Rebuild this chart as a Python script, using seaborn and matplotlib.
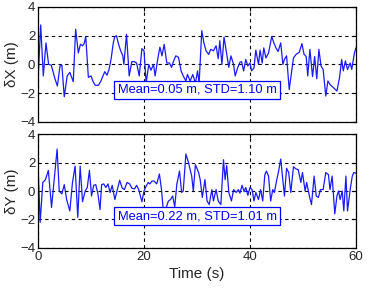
import numpy as np
import pandas as pd
import matplotlib
matplotlib.use("Agg")
import matplotlib.pyplot as plt
import seaborn as sns

# time (s) and error (m)
t_x = [0.0, 0.5, 1.0, 1.5, 2.0, 2.5, 3.2, 3.65, 4.15, 4.5, 4.95, 5.5, 6.0, 6.65, 7.1,
       7.6, 8.0, 8.4, 8.7, 9.0, 9.5, 10.0, 10.4, 10.8, 11.4, 11.8, 12.2, 12.6, 13.0,
       13.4, 13.8, 14.2, 14.5, 14.8, 15.2, 15.6, 16.0, 16.2, 16.7, 17.2, 17.7, 18.1,
       18.6, 19.1, 19.6, 20.0, 20.4, 20.9, 21.3, 21.8, 22.1, 22.6, 23.0, 23.4, 23.8,
       24.3, 24.8, 25.2, 25.6, 26.0, 26.5, 27.0, 27.4, 27.9, 28.2, 28.7, 29.2, 29.7,
       30.1, 30.4, 30.9, 31.3, 31.7, 32.2, 32.6, 33.1, 33.6, 34.0, 34.3, 34.7, 35.1,
       35.5, 36.0, 36.4, 36.9, 37.2, 37.7, 38.1, 38.4, 38.8, 39.2, 39.6, 40.0, 40.3,
       40.75, 41.1, 41.6, 41.9, 42.3, 42.6, 43.0, 43.5, 44.1, 44.5, 44.9, 45.3, 45.8,
       46.2, 46.5, 46.9, 47.4, 47.9, 48.2, 48.7, 49.3, 49.8, 50.2, 50.6, 50.9, 51.3,
       51.8, 52.2, 52.6, 53.0, 53.4, 53.8, 54.3, 54.7, 55.1, 55.7, 56.4, 56.9, 57.3,
       57.6, 58.0, 58.4, 58.9, 59.2, 59.7, 60.0]
dx = [-1.15, 2.75, -0.8, 1.5, 0.0, -0.05, -1.0, -1.5, -0.1, -0.05, -2.25, -0.8, -0.55,
      -1.2, 2.45, 0.8, 1.4, 1.3, 1.45, 1.95, -0.9, -0.8, -1.2, -1.45, -1.45, -1.2,
      -0.85, -0.5, -0.75, -0.35, 0.4, 1.5, 1.95, 2.0, 1.4, 0.95, 0.6, 0.0, 2.1, -0.8,
      0.2, 0.2, 0.1, -0.8, 1.1, 0.95, -1.3, 0.0, -0.4, 0.0, -0.8, 0.4, 1.2, 0.6, 1.4,
      0.1, 0.1, -0.2, 0.25, 0.6, 0.5, -0.45, -0.8, -1.15, -0.7, -1.15, -0.7, -1.3,
      -0.45, -1.3, 2.35, 1.5, 0.95, 0.7, 1.05, 0.95, 1.3, 0.4, 1.65, 0.0, 1.9, 0.95,
      -0.2, 0.6, 0.0, -0.8, -0.2, 0.15, 0.2, -0.45, 0.35, -0.1, 0.1, -0.45, -0.25,
      1.0, 0.0, 1.0, 0.1, 1.15, 0.45, 0.8, 1.95, 1.5, 1.15, 0.9, 1.5, 0.0, 0.35, 0.6,
      -1.75, -0.35, 0.45, 0.7, 0.85, 1.45, 0.7, 0.55, -0.8, 1.05, -0.85, 0.55, -1.0,
      1.05, -0.1, -0.35, -2.2, -1.15, -1.4, -1.6, -1.85, -0.9, 0.35, -0.45, 0.25,
      -0.35, 0.1, -0.35, 0.8, 1.15]

t_y = [0.0, 0.4, 0.9, 1.4, 1.95, 2.55, 3.0, 3.6, 4.0, 4.5, 4.95, 5.4, 6.0, 6.5, 7.0,
       7.5, 7.95, 8.4, 8.9, 9.3, 9.7, 10.1, 10.5, 10.9, 11.3, 11.7, 12.0, 12.4, 12.8,
       13.2, 13.6, 14.0, 14.5, 14.9, 15.4, 15.9, 16.3, 16.8, 17.3, 17.7, 18.2, 18.6,
       19.0, 19.6, 20.0, 20.4, 20.8, 21.1, 21.5, 21.9, 22.4, 22.9, 23.3, 23.6, 24.2,
       24.6, 25.0, 25.4, 25.8, 26.2, 26.7, 27.1, 27.4, 27.9, 28.4, 28.7, 29.0, 29.3,
       29.7, 30.3, 30.6, 31.0, 31.5, 31.9, 32.3, 32.8, 33.1, 33.6, 34.0, 34.5, 35.0,
       35.3, 35.6, 36.0, 36.5, 36.9, 37.4, 37.8, 38.1, 38.5, 38.9, 39.2, 39.6, 40.0,
       40.4, 40.75, 41.1, 41.6, 42.0, 42.4, 42.8, 43.1, 43.5, 43.9, 44.3, 44.6, 45.0,
       45.4, 45.8, 46.2, 46.5, 46.9, 47.3, 47.7, 48.2, 48.7, 49.1, 49.6, 49.9, 50.4,
       50.7, 51.2, 51.6, 52.1, 52.5, 52.9, 53.3, 53.8, 54.3, 54.8, 55.1, 55.5, 56.0,
       56.4, 56.7, 57.0, 57.4, 57.7, 58.1, 58.4, 58.9, 59.3, 59.6, 60.0]
dy = [1.8, -2.2, 0.6, 0.8, 1.45, -1.15, 0.6, 2.95, 0.0, -0.2, 0.45, -0.6, -1.4, 0.6,
      1.75, -1.85, 1.75, -0.75, 0.0, 0.25, 1.45, -0.35, 0.4, 0.45, -0.2, -1.3, 0.45,
      0.5, 0.25, 0.5, -0.1, 0.4, -0.6, 0.0, 0.75, 0.2, 0.1, 0.6, 0.5, 0.2, 0.15, 0.4,
      0.1, -0.75, 0.0, 0.35, 0.6, 0.5, 0.7, 0.7, 0.5, 1.2, 0.1, -1.2, -1.15, -0.7,
      -0.6, -0.35, -1.1, 0.5, 1.4, -0.1, 0.0, 2.6, 2.0, 1.5, 1.05, 0.0, 1.85, 1.3,
      0.8, -0.45, 0.8, -0.7, -0.95, 0.1, -0.7, 0.1, -0.7, -0.95, 2.2, 0.8, 1.8, -0.1,
      -0.7, 0.1, -0.1, 0.1, -0.15, 0.4, -0.05, 0.25, -0.3, 0.25, 0.1, -0.7, -0.1,
      -0.6, 0.1, -0.7, 1.15, 1.4, 1.05, -0.7, 0.1, -0.1, 0.7, 1.4, 2.25, 0.8, -0.35,
      1.6, 1.3, -0.1, 1.7, 1.55, 1.5, 0.6, 1.3, 0.0, 0.6, -0.35, -0.95, 1.05, -0.35,
      -0.45, 0.1, 0.1, 1.3, 1.15, 0.1, 1.05, -1.6, -0.35, 0.0, -0.6, 0.0, -1.4, 1.05,
      -1.4, 0.1, 1.05, 1.3, 1.25]

labels = ["\u03b4X (m)", "\u03b4Y (m)"]
stats = ["Mean=0.05 m, STD=1.10 m", "Mean=0.22 m, STD=1.01 m"]

sns.set_style("white")
plt.rcParams["font.family"] = ["Liberation Sans", "DejaVu Sans"]

fig = plt.figure(figsize=(3.88, 2.89), dpi=100)
ax1 = fig.add_axes([0.098, 0.578, 0.8195, 0.398])
ax2 = fig.add_axes([0.098, 0.142, 0.8195, 0.394])

for ax, t, v, lab, txt in [(ax1, t_x, dx, labels[0], stats[0]),
                           (ax2, t_y, dy, labels[1], stats[1])]:
    df = pd.DataFrame({"t": t, "v": v})
    sns.lineplot(data=df, x="t", y="v", ax=ax, color="#1a1aff", lw=0.9,
                 estimator=None, sort=False)
    ax.set_xlim(0, 60)
    ax.set_ylim(-4, 4)
    ax.set_xticks([0, 20, 40, 60])
    ax.set_yticks([-4, -2, 0, 2, 4])
    ax.grid(True, color="black", ls=(0, (3, 3)), lw=0.8)
    ax.tick_params(direction="in", length=3, top=True, right=True,
                   labelsize=9.5, color="black", pad=2)
    for s in ax.spines.values():
        s.set_color("black")
        s.set_linewidth(0.9)
    ax.set_ylabel(lab, fontsize=11, labelpad=1)
    ax.set_xlabel("")
    ax.text(30, -1.77, txt, ha="center", va="center", color="#0000ff", fontsize=9.3,
            bbox=dict(boxstyle="square,pad=0.25", fc="white", ec="#0000ff", lw=0.9),
            zorder=5)

ax1.set_xticklabels([])
ax2.set_xlabel("Time (s)", fontsize=11, labelpad=3)

fig.savefig("out.png", dpi=100)
